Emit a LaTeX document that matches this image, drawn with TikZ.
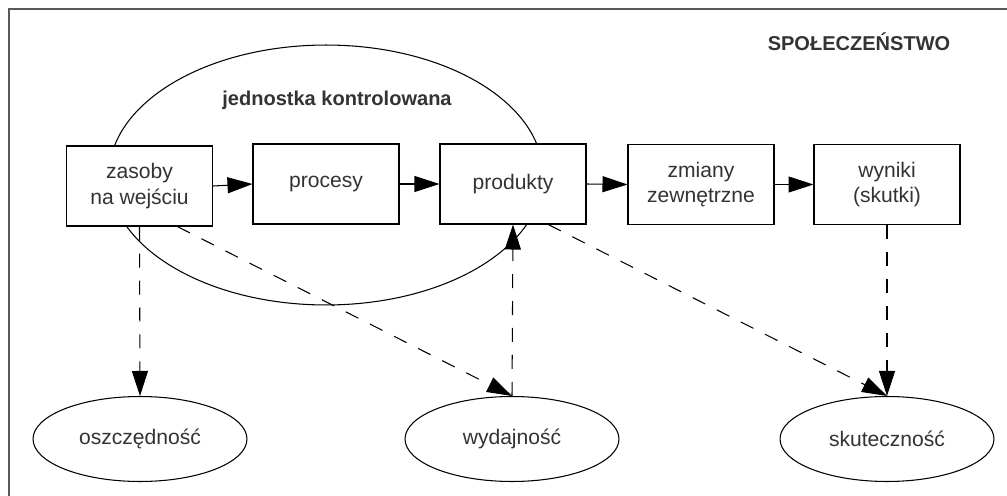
\documentclass[tikz,border=0pt]{standalone}
\usepackage{fontspec}
\setmainfont{Liberation Sans}
\usetikzlibrary{arrows.meta,shapes.geometric}
\definecolor{txtgray}{HTML}{333333}
\tikzset{
  box/.style={draw, fill=white, minimum width=2.92cm, minimum height=1.6cm, align=center, inner sep=2pt},
  oval/.style={draw, ellipse, fill=white, minimum width=4.28cm, minimum height=1.7cm, inner sep=1pt},
  flow/.style={-{Triangle[length=0.5cm,width=0.32cm]}},
  link/.style={flow, dash pattern=on 0.28cm off 0.26cm},
  title/.style={font=\fontsize{11.4}{13}\selectfont\bfseries},
}
\begin{document}
\begin{tikzpicture}[x=0.02cm, y=-0.02cm, line width=0.6pt,
    font=\fontsize{12}{14.7}\selectfont, text=txtgray]
            \useasboundingbox (0,0) rectangle (1007,496);
            \draw[gray!70!black] (9,496) -- (9,9) -- (1007,9);

            % unit boundary
            \node[draw, ellipse, minimum width=8.68cm, minimum height=5.2cm] (unit) at (326,175) {};
            \node[title] (unitlbl) at (337,100) {jednostka kontrolowana};
            \node[title] (soc) at (859,42) {SPOŁECZEŃSTWO};

            \node[box] (zas) at (139.5,186) {zasoby\\na wejściu};
            \node[box] (proc) at (326,184) {procesy};
            \node[box] (prod) at (513,184) {produkty};
            \node[box] (zmi) at (701,184.5) {zmiany\\zewnętrzne};
            \node[box] (wyn) at (887,184.5) {wyniki\\(skutki)};

            \node[oval] (osz) at (140,439) {oszczędność};
            \node[oval] (wyd) at (512,439) {wydajność};
            \node[oval] (sku) at (887,439) {skuteczność};

            \draw[flow] (zas.east) -- (proc.west);
            \draw[flow] (proc.east) -- (prod.west);
            \draw[flow] (prod.east) -- (zmi.west);
            \draw[flow] (zmi.east) -- (wyn.west);

            \draw[link] (zas.south) -- (osz.north);
            \draw[link] (zas.-47) -- (wyd.north);
            \draw[link] (wyd.north) -- (prod.south);
            \draw[link] (prod.-49) -- (sku.north);
            \draw[link] (wyn.south) -- (sku.north);
        \end{tikzpicture}
\end{document}
